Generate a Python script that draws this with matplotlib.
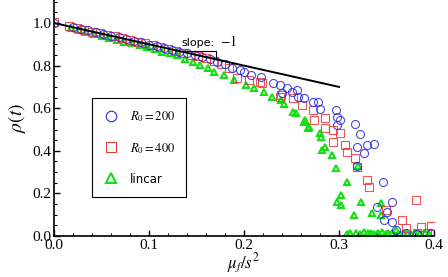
import matplotlib
matplotlib.use("Agg")
import matplotlib.pyplot as plt
from matplotlib.ticker import MultipleLocator

plt.rcParams['mathtext.fontset'] = 'stix'
plt.rcParams['font.family'] = ['Liberation Serif', 'DejaVu Serif']

# R0 = 200 (blue circles)
r200_x = [0.000, 0.020, 0.028, 0.036, 0.044, 0.052, 0.060, 0.068, 0.076, 0.084, 0.092, 0.100,
          0.108, 0.116, 0.124, 0.132, 0.140, 0.148, 0.156, 0.164, 0.172, 0.180, 0.187, 0.196,
          0.200, 0.207, 0.218, 0.230, 0.238, 0.240, 0.245, 0.251, 0.256, 0.257, 0.263, 0.273,
          0.278, 0.280, 0.297, 0.298, 0.301, 0.298, 0.317, 0.322, 0.319, 0.329, 0.337, 0.326,
          0.319, 0.346, 0.356, 0.340, 0.351, 0.347, 0.356, 0.360, 0.371, 0.382, 0.397]
r200_y = [1.000, 0.980, 0.972, 0.965, 0.957, 0.948, 0.941, 0.932, 0.925, 0.915, 0.909, 0.899,
          0.891, 0.883, 0.874, 0.866, 0.857, 0.849, 0.839, 0.830, 0.818, 0.806, 0.789, 0.780,
          0.770, 0.756, 0.746, 0.720, 0.709, 0.671, 0.695, 0.676, 0.685, 0.653, 0.648, 0.629,
          0.629, 0.596, 0.592, 0.559, 0.545, 0.521, 0.526, 0.479, 0.418, 0.427, 0.434, 0.390,
          0.329, 0.254, 0.160, 0.136, 0.113, 0.075, 0.066, 0.028, 0.014, 0.009, 0.014]

# R0 = 400 (red squares)
r400_x = [0.000, 0.016, 0.024, 0.032, 0.040, 0.048, 0.056, 0.064, 0.072, 0.080, 0.088, 0.096,
          0.104, 0.112, 0.120, 0.128, 0.136, 0.144, 0.152, 0.160, 0.168, 0.176, 0.184, 0.193,
          0.205, 0.217, 0.219, 0.238, 0.239, 0.252, 0.261, 0.273, 0.285, 0.274, 0.285, 0.294,
          0.301, 0.294, 0.306, 0.308, 0.317, 0.319, 0.329, 0.332, 0.381, 0.349, 0.366, 0.371,
          0.386, 0.397, 0.382, 0.393]
r400_y = [1.005, 0.985, 0.977, 0.968, 0.960, 0.953, 0.944, 0.937, 0.928, 0.921, 0.912, 0.904,
          0.896, 0.887, 0.879, 0.870, 0.861, 0.852, 0.843, 0.834, 0.820, 0.808, 0.790, 0.742,
          0.732, 0.723, 0.718, 0.653, 0.662, 0.648, 0.615, 0.592, 0.554, 0.545, 0.507, 0.498,
          0.484, 0.441, 0.427, 0.394, 0.366, 0.324, 0.263, 0.230, 0.169, 0.122, 0.075, 0.038,
          0.042, 0.047, 0.014, 0.014]

# linear (green triangles)
lin_x = [0.018, 0.026, 0.034, 0.042, 0.050, 0.058, 0.066, 0.074, 0.082, 0.090, 0.098, 0.106,
         0.114, 0.122, 0.129, 0.138, 0.146, 0.154, 0.162, 0.168, 0.179, 0.189, 0.202, 0.211,
         0.221, 0.229, 0.239, 0.242, 0.252, 0.255, 0.263, 0.268, 0.264, 0.267, 0.280, 0.281,
         0.285, 0.282, 0.293, 0.297, 0.308, 0.302, 0.298, 0.302, 0.323, 0.316, 0.335, 0.344,
         0.344, 0.320, 0.308, 0.312, 0.318, 0.322, 0.326, 0.330, 0.334, 0.337, 0.341, 0.345,
         0.349, 0.352, 0.356, 0.360, 0.364, 0.368, 0.372, 0.376, 0.380, 0.385, 0.390, 0.395]
lin_y = [0.975, 0.966, 0.957, 0.948, 0.940, 0.931, 0.922, 0.913, 0.904, 0.895, 0.885, 0.876,
         0.866, 0.857, 0.850, 0.832, 0.818, 0.804, 0.790, 0.772, 0.756, 0.732, 0.709, 0.695,
         0.676, 0.653, 0.638, 0.620, 0.582, 0.577, 0.535, 0.512, 0.545, 0.507, 0.484, 0.465,
         0.418, 0.404, 0.380, 0.319, 0.254, 0.192, 0.160, 0.146, 0.160, 0.099, 0.108, 0.155,
         0.099, 0.330, 0.010, 0.012, 0.015, 0.010, 0.020, 0.012, 0.015, 0.010, 0.013, 0.018,
         0.010, 0.012, 0.015, 0.030, 0.010, 0.012, 0.014, 0.010, 0.012, 0.010, 0.012, 0.010]

slope_x = [0.0, 0.3]
slope_y = [1.0, 0.7]
tri_x = [0.13, 0.17, 0.17]
tri_y = [0.87, 0.87, 0.83]

fig = plt.figure(figsize=(4.48, 2.77), dpi=100)
ax = fig.add_axes([54 / 448, 41 / 277, 380 / 448, 236 / 277])

blue = '#2b2bdd'
red = '#e83a3a'
green = '#11e011'

ax.plot(r200_x, r200_y, 'o', ms=5.8, mfc='none', mec=blue, mew=0.8, alpha=0.85,
        label=r'$R_0 = 200$', zorder=3)
ax.plot(r400_x, r400_y, 's', ms=5.6, mfc='none', mec=red, mew=0.8, alpha=0.85,
        label=r'$R_0 = 400$', zorder=2)
ax.plot(lin_x, lin_y, '^', ms=5.0, mfc='none', mec=green, mew=1.5,
        label='lincar', zorder=1)

ax.plot(slope_x, slope_y, color='black', lw=1.4, zorder=5)
ax.plot(tri_x, tri_y, color='black', lw=0.8, zorder=5)
ax.text(0.134, 0.893, 'slope:', fontsize=8, family='DejaVu Sans', zorder=6)
ax.text(0.175, 0.893, r'$-1$', fontsize=10, zorder=6)

ax.set_xlim(0, 0.4)
ax.set_ylim(0, 1.108)
ax.xaxis.set_minor_locator(MultipleLocator(0.02))
ax.yaxis.set_minor_locator(MultipleLocator(0.05))
ax.set_xticks([0.0, 0.1, 0.2, 0.3, 0.4])
ax.set_xticklabels(['0.0', '0.1', '0.2', '0.3', '0.4'])
ax.set_yticks([0.0, 0.2, 0.4, 0.6, 0.8, 1.0])
ax.set_yticklabels(['0.0', '0.2', '0.4', '0.6', '0.8', '1.0'])
ax.tick_params(which='major', direction='in', length=4, width=1, labelsize=11, pad=2)
ax.tick_params(which='minor', direction='in', length=2, width=0.8)
for s in ['top', 'right']:
    ax.spines[s].set_visible(False)
for s in ['left', 'bottom']:
    ax.spines[s].set_linewidth(1.2)

ax.set_xlabel(r'$\mu_f/s^2$', fontsize=12, labelpad=0)
ax.set_ylabel(r'$\rho(t)$', fontsize=14, labelpad=3)

leg = ax.legend(loc='upper left', bbox_to_anchor=(0.1, 0.585), borderaxespad=0,
                fancybox=False, edgecolor='black', framealpha=1, fontsize=9,
                markerscale=1.3, labelspacing=1.35, handlelength=1.2, handletextpad=0.9,
                borderpad=0.9)
leg.get_frame().set_linewidth(0.8)
for t in leg.get_texts():
    if t.get_text() == 'lincar':
        t.set_family('DejaVu Sans')
        t.set_fontsize(8.5)
for h in leg.legend_handles:
    h.set_alpha(1)

fig.savefig('out.png', dpi=100)
